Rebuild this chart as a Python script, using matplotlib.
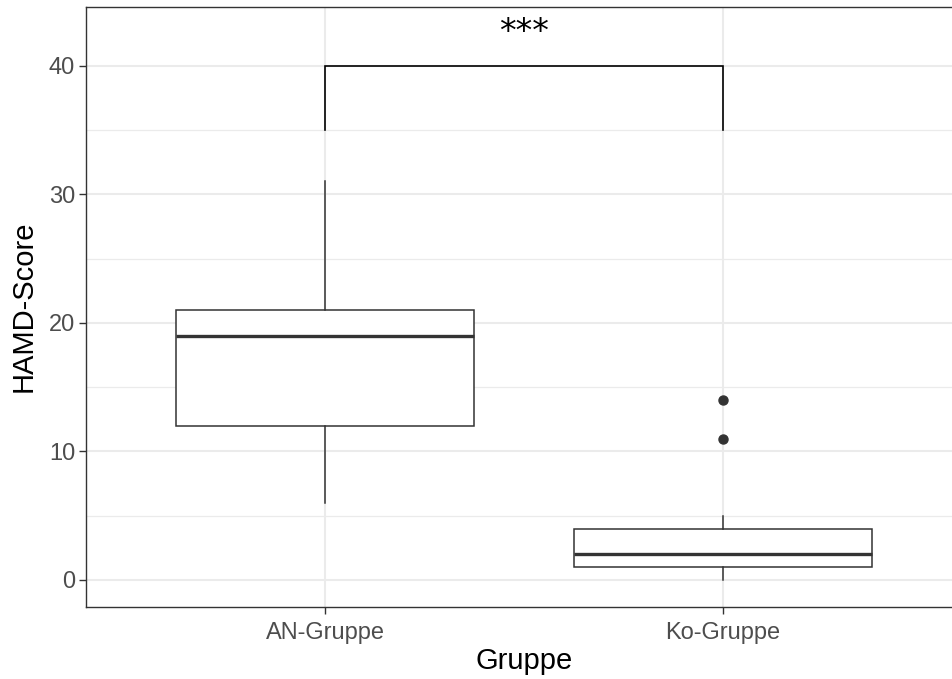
#!/usr/bin/env python3
"""HAMD-Score boxplot: AN-Gruppe vs Ko-Gruppe (ggplot theme_bw look)."""

import matplotlib
matplotlib.use('Agg')
import matplotlib.pyplot as plt
from matplotlib.ticker import MultipleLocator

plt.rcParams['font.family'] = ['Liberation Sans', 'DejaVu Sans']

# data
groups   = ['AN-Gruppe', 'Ko-Gruppe']
whislo   = [6, 0]
q1       = [12, 1]
med      = [19, 2]
q3       = [21, 4]
whishi   = [31, 5]
fliers   = [[], [11, 14]]
bracket_lo, bracket_hi = 35, 40
sig_label = '***'
sig_y = 42.6

stats = []
for i, g in enumerate(groups):
    stats.append(dict(label=g, whislo=whislo[i], q1=q1[i], med=med[i],
                      q3=q3[i], whishi=whishi[i], fliers=fliers[i]))

fig = plt.figure(figsize=(9.52, 6.79), dpi=100)
ax = fig.add_axes([0.0907, 0.1065, 0.9197, 0.8837])

dark = '#333333'
ax.bxp(stats, positions=[1, 2], widths=0.75, showcaps=False, patch_artist=True,
       boxprops=dict(facecolor='white', edgecolor=dark, linewidth=1.1),
       medianprops=dict(color=dark, linewidth=2.4),
       whiskerprops=dict(color=dark, linewidth=1.1),
       flierprops=dict(marker='o', markerfacecolor=dark, markeredgecolor=dark,
                       markersize=6.5),
       zorder=3)

# significance bracket
ax.plot([1, 1, 2, 2], [bracket_lo, bracket_hi, bracket_hi, bracket_lo],
        color='black', linewidth=1.2, zorder=3, solid_joinstyle='miter')
ax.text(1.5, sig_y, sig_label, ha='center', va='center', fontsize=24,
        color='black', family='DejaVu Sans')

ax.set_xlim(0.4, 2.6)
ax.set_ylim(-2.08, 44.59)
ax.set_xticks([1, 2])
ax.set_xticklabels(groups)
ax.yaxis.set_major_locator(MultipleLocator(10))
ax.yaxis.set_minor_locator(MultipleLocator(5))

# grid
ax.set_axisbelow(True)
ax.grid(True, which='major', color='#EBEBEB', linewidth=1.5)
ax.grid(True, which='minor', axis='y', color='#EBEBEB', linewidth=0.9)
ax.tick_params(which='minor', length=0)
ax.tick_params(which='major', length=5, width=1.0, color=dark,
               labelsize=17, labelcolor='#4D4D4D', pad=3)
ax.tick_params(axis='x', which='major', pad=6)

for s in ax.spines.values():
    s.set_color(dark)
    s.set_linewidth(1.0)

ax.set_xlabel('Gruppe', fontsize=21, labelpad=2)
ax.set_ylabel('HAMD-Score', fontsize=21, labelpad=8)

plt.savefig('out.png', dpi=100)
plt.close()
